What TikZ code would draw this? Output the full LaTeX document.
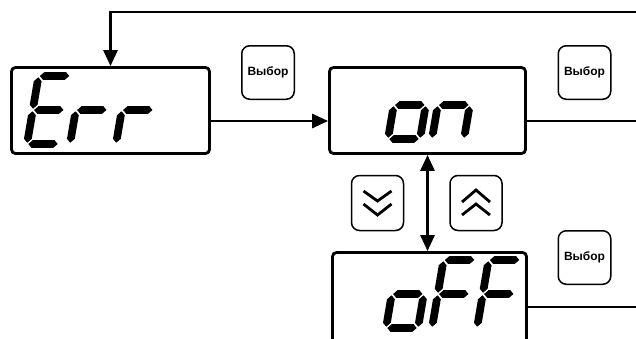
\documentclass[tikz,border=0pt]{standalone}
\usepackage{fontspec}
\setmainfont{Liberation Sans}
\usetikzlibrary{arrows.meta}
\newcommand\ssW{32}
\newcommand\ssH{34}
\newcommand\ssT{7.8}
\newcommand\ssG{1.3}
\newcommand\segHz[2]{\fill ({#1+\ssG},{#2}) -- ({#1+\ssG+\ssT/2},{#2-\ssT/2}) -- ({#1+\ssW-\ssG-\ssT/2},{#2-\ssT/2}) -- ({#1+\ssW-\ssG},{#2}) -- ({#1+\ssW-\ssG-\ssT/2},{#2+\ssT/2}) -- ({#1+\ssG+\ssT/2},{#2+\ssT/2}) -- cycle;}
\newcommand\segVt[2]{\fill ({#1},{#2-\ssG}) -- ({#1+\ssT/2},{#2-\ssG-\ssT/2}) -- ({#1+\ssT/2},{#2-\ssH+\ssG+\ssT/2}) -- ({#1},{#2-\ssH+\ssG}) -- ({#1-\ssT/2},{#2-\ssH+\ssG+\ssT/2}) -- ({#1-\ssT/2},{#2-\ssG-\ssT/2}) -- cycle;}
\newcommand\sgA{\segHz{0}{-2*\ssH}}
\newcommand\sgB{\segVt{\ssW}{-\ssH}}
\newcommand\sgC{\segVt{\ssW}{0}}
\newcommand\sgD{\segHz{0}{0}}
\newcommand\sgE{\segVt{0}{0}}
\newcommand\sgF{\segVt{0}{-\ssH}}
\newcommand\sgG{\segHz{0}{-\ssH}}
\newcommand\glyphE{\sgA\sgD\sgE\sgF\sgG}
\newcommand\glyphr{\sgE\sgG}
\newcommand\glypho{\sgC\sgD\sgE\sgG}
\newcommand\glyphn{\sgC\sgE\sgG}
\newcommand\glyphF{\sgA\sgE\sgF\sgG}
\newcommand\ssdigit[3]{\begin{scope}[shift={(#1,#2)},xslant=0.17]#3\end{scope}}
\begin{document}
\begin{tikzpicture}[x=1pt,y=-1pt,
  disp/.style={draw=black,line width=2.8pt,rounded corners=4pt,inner sep=0pt},
  btn/.style={draw=black,line width=1.5pt,rounded corners=8pt,minimum width=52.5pt,minimum height=53.5pt,inner sep=0pt,font=\bfseries\fontsize{12}{12}\selectfont},
  tipstyle/.style={line width=2.8pt},
  conn/.style={tipstyle,-{Triangle[width=14pt,length=16pt]}},
  dconn/.style={tipstyle,{Triangle[width=14pt,length=16pt]}-{Triangle[width=14pt,length=16pt]}},
  chev/.style={line width=2.8pt,line join=miter},
  ghost/.style={text opacity=0,font=\fontsize{40}{40}\selectfont}
]
\useasboundingbox (0,0) rectangle (636,338);
\clip (0,0) rectangle (636,338);
% display boxes
\node[disp,minimum width=198pt,minimum height=86pt] (err) at (110.5,110.5) {};
\node[disp,minimum width=196pt,minimum height=86pt] (on) at (427.5,110.5) {};
\node[disp,minimum width=194pt,minimum height=100pt] (off) at (429.5,302.5) {};
% seven-segment readings
\ssdigit{27}{144}{\glyphE}
\ssdigit{70}{144}{\glyphr}
\ssdigit{116}{144}{\glyphr}
\ssdigit{388}{139}{\glypho}
\ssdigit{432}{139}{\glyphn}
\ssdigit{386}{328}{\glypho}
\ssdigit{432}{328}{\glyphF}
\ssdigit{477}{328}{\glyphF}
\node[ghost] (errtxt) at (88,110) {Err};
\node[ghost] (ontxt) at (430,120) {on};
\node[ghost] (offtxt) at (452,300) {oFF};
% buttons
\node[btn] (b1) at (268,72.5) {Выбор};
\node[btn] (b2) at (584.5,72.5) {Выбор};
\node[btn] (b3) at (584.5,257.5) {Выбор};
\node[btn,minimum width=52pt,minimum height=55pt] (dn) at (377.5,203) {};
\node[btn,minimum width=52pt,minimum height=55pt] (up) at (476,203) {};
\begin{scope}[shift={(dn.center)}]
  \draw[chev] (-14,-12) -- (0,-2) -- (14,-12);
  \draw[chev] (-14,1) -- (0,12) -- (14,1);
\end{scope}
\begin{scope}[shift={(up.center)}]
  \draw[chev] (-14,-1) -- (0,-13) -- (14,-1);
  \draw[chev] (-14,12) -- (0,1) -- (14,12);
\end{scope}
% connectors
\coordinate (tr) at (645,12);
\coordinate (r1) at (645,121);
\coordinate (r2) at (645,307);
\draw[conn] (tr) -| (err.north);
\draw[conn] ([yshift=-10.5pt]err.east) -- ([yshift=-10.5pt]on.west);
\draw[tipstyle] ([yshift=-10.5pt]on.east) -- (r1);
\draw[tipstyle] ([yshift=-4.5pt]off.east) -- (r2);
\draw[dconn] (on.south) -- (on.south |- off.north);
\end{tikzpicture}
\end{document}
